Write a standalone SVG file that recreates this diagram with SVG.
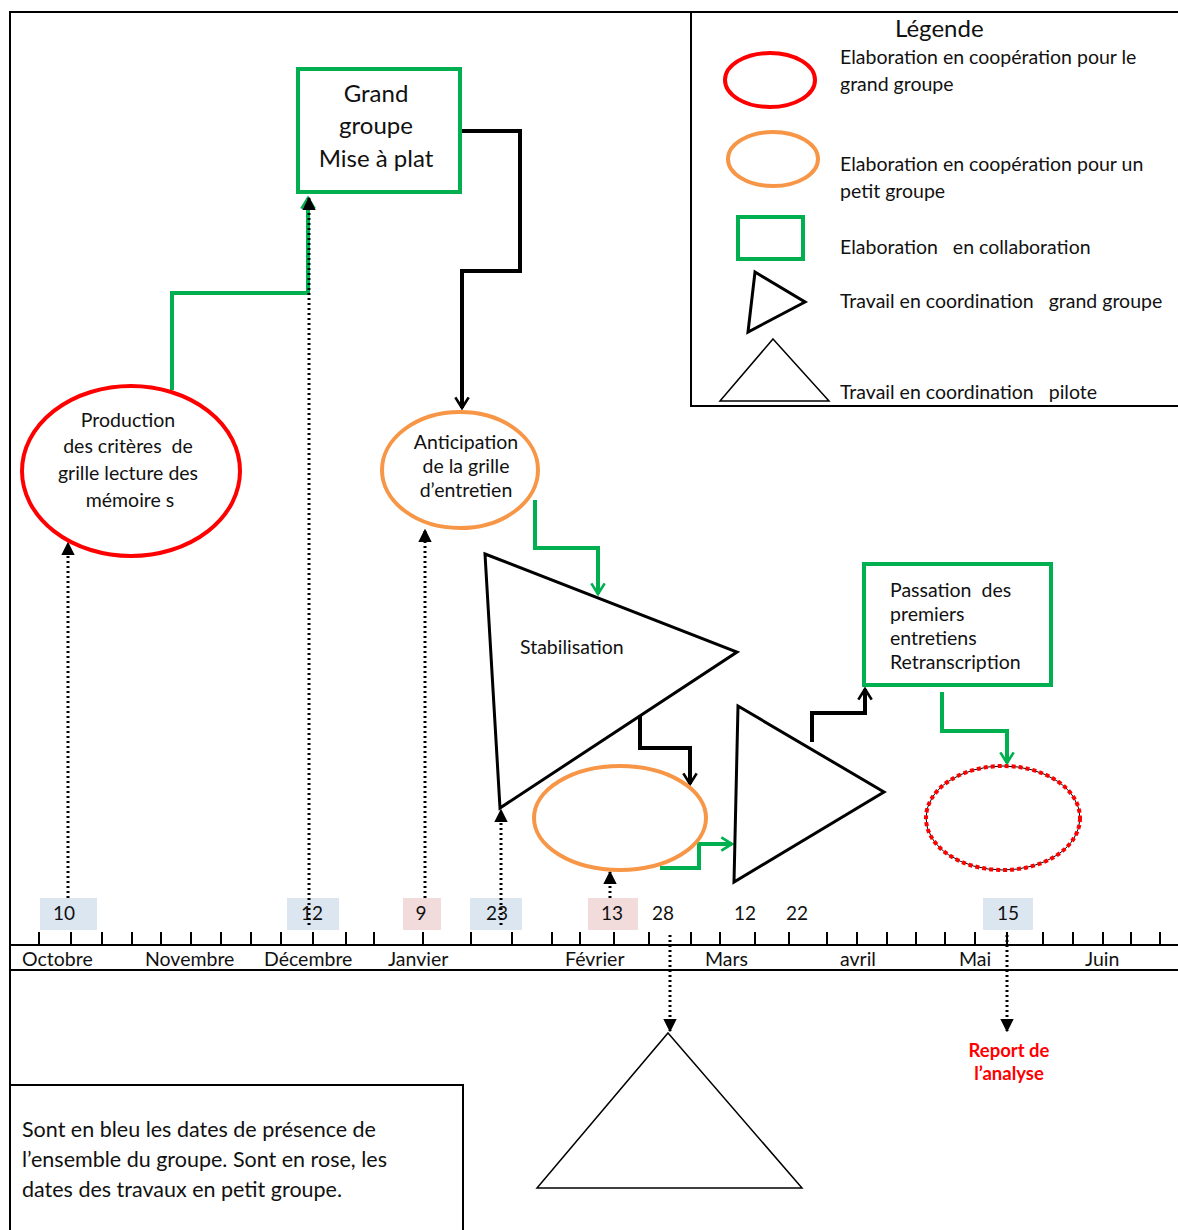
<svg xmlns="http://www.w3.org/2000/svg" width="1178" height="1230" viewBox="0 0 1178 1230">
<style>
text{font-family:Lato,"Liberation Sans",sans-serif;fill:#111;}
.t17{font-size:19.5px;}
.t19{font-size:19px;}
.t21{font-size:21.5px;}
.t22{font-size:24px;}
.mid{text-anchor:middle;}
.frame{fill:none;stroke:#000;stroke-width:2;}
.red{fill:none;stroke:#f00;stroke-width:4;}
.orange{fill:none;stroke:#f79646;stroke-width:4;}
.green{fill:none;stroke:#00b050;stroke-width:4;}
.tri{fill:none;stroke:#000;stroke-width:3;stroke-linejoin:miter;}
.thin{fill:none;stroke:#000;stroke-width:1.5;}
.gc{fill:none;stroke:#00b050;stroke-width:4;}
.bc{fill:none;stroke:#000;stroke-width:4;}
.dot{fill:none;stroke:#000;stroke-width:3;stroke-dasharray:2 3;}
.blue{fill:#dce6f1;}
.pink{fill:#f2dcdb;}
.tick{stroke:#000;stroke-width:2;}
</style>
<defs>
<marker id="chevG" viewBox="0 0 12 12" refX="10" refY="6" markerWidth="4" markerHeight="4" orient="auto" markerUnits="strokeWidth">
<path d="M2 1 L10 6 L2 11" fill="none" stroke="#00b050" stroke-width="2"/>
</marker>
<marker id="chevB" viewBox="0 0 12 12" refX="10" refY="6" markerWidth="4" markerHeight="4" orient="auto" markerUnits="strokeWidth">
<path d="M2 1 L10 6 L2 11" fill="none" stroke="#000" stroke-width="2"/>
</marker>
<marker id="fill" viewBox="0 0 10 10" refX="9" refY="5" markerWidth="4.5" markerHeight="4.5" orient="auto" markerUnits="strokeWidth">
<path d="M0 0 L10 5 L0 10 z" fill="#000"/>
</marker>
</defs>

<g id="frame">
<path class="frame" d="M10 1230 V12 H1178"/>
<path class="frame" d="M691 12 V406 H1178"/>
<path class="frame" d="M10 1085 H463 V1230"/>
<path class="frame" d="M10 945 H1178"/>
<path class="frame" d="M10 970 H1178"/>
</g>

<g id="ticks">
<path class="tick" d="M39 932V945M71 932V945M102 932V945M132 932V945M161 932V945M191 932V945M221 932V945M251 932V945M281 932V945M313 932V945M346 932V945M374 932V945M423 932V945M471 932V945M512 932V945M552 932V945M580 932V945M614 932V945M649 932V945M691 932V945M720 932V945M755 932V945M789 932V945M827 932V945M857 932V945M887 932V945M916 932V945M945 932V945M975 932V945M1007 932V945M1043 932V945M1073 932V945M1103 932V945M1131 932V945M1160 932V945"/>
</g>

<g id="dates">
<rect class="blue" x="40" y="898" width="57" height="32"/>
<rect class="blue" x="287" y="898" width="52" height="32"/>
<rect class="pink" x="403" y="898" width="38" height="32"/>
<rect class="blue" x="470" y="898" width="52" height="32"/>
<rect class="pink" x="588" y="898" width="50" height="32"/>
<rect class="blue" x="983" y="898" width="50" height="32"/>
<text class="t19 mid" x="64" y="920">10</text>
<text class="t19 mid" x="312" y="920">12</text>
<text class="t19 mid" x="421" y="920">9</text>
<text class="t19 mid" x="497" y="920">23</text>
<text class="t19 mid" x="612" y="920">13</text>
<text class="t19 mid" x="663" y="920">28</text>
<text class="t19 mid" x="745" y="920">12</text>
<text class="t19 mid" x="797" y="920">22</text>
<text class="t19 mid" x="1008" y="920">15</text>
</g>

<g id="months">
<text class="t17" x="22" y="966">Octobre</text>
<text class="t17" x="145" y="966">Novembre</text>
<text class="t17" x="264" y="966">Décembre</text>
<text class="t17" x="388" y="966">Janvier</text>
<text class="t17" x="565" y="966">Février</text>
<text class="t17" x="705" y="966">Mars</text>
<text class="t17" x="840" y="966">avril</text>
<text class="t17" x="959" y="966">Mai</text>
<text class="t17" x="1085" y="966">Juin</text>
</g>

<g id="legend">
<text class="t22" x="895" y="37">Légende</text>
<ellipse class="red" cx="770" cy="80" rx="45" ry="27"/>
<text class="t17" x="840" y="64">Elaboration en coopération pour le</text>
<text class="t17" x="840" y="91">grand groupe</text>
<ellipse class="orange" cx="773" cy="159" rx="45" ry="27"/>
<text class="t17" x="840" y="171">Elaboration en coopération pour un</text>
<text class="t17" x="840" y="198">petit groupe</text>
<rect class="green" x="738" y="217" width="65" height="42"/>
<text class="t17" x="840" y="254" xml:space="preserve">Elaboration   en collaboration</text>
<path class="tri" d="M755 272 L805 302 L748 332 Z"/>
<text class="t17" x="840" y="308" xml:space="preserve">Travail en coordination   grand groupe</text>
<path class="thin" d="M773 339 L829 401 L720 401 Z"/>
<text class="t17" x="840" y="399" xml:space="preserve">Travail en coordination   pilote</text>
</g>

<g id="connectors">
<path class="gc" d="M172 390 V293 H308 V198" marker-end="url(#chevG)"/>
<path class="bc" d="M460 131 H520 V271 H462 V408" marker-end="url(#chevB)"/>
<path class="gc" d="M535 500 V548 H598 V594" marker-end="url(#chevG)"/>
<path class="bc" d="M640 716 V748 H690 V784" marker-end="url(#chevB)"/>
<path class="gc" d="M660 868 H699 V844 H732" marker-end="url(#chevG)"/>
<path class="bc" d="M812 742 V713 H865 V689" marker-end="url(#chevB)"/>
<path class="gc" d="M942 692 V731 H1007 V763" marker-end="url(#chevG)"/>
<path class="dot" d="M68 898 V543" marker-end="url(#fill)"/>
<path class="dot" d="M309 925 V198" marker-end="url(#fill)"/>
<path class="dot" d="M425 898 V530" marker-end="url(#fill)"/>
<path class="dot" d="M501 925 V810" marker-end="url(#fill)"/>
<path class="dot" d="M610 898 V872" marker-end="url(#fill)"/>
<path class="dot" d="M670 935 V1031" marker-end="url(#fill)"/>
<path class="dot" d="M1007 935 V1031" marker-end="url(#fill)"/>
</g>

<g id="n-production">
<ellipse class="red" cx="131" cy="471" rx="109" ry="85"/>
<text class="t17 mid" x="128" y="427">Production</text>
<text class="t17 mid" x="128" y="453" xml:space="preserve">des critères  de</text>
<text class="t17 mid" x="128" y="480">grille  lecture des</text>
<text class="t17 mid" x="130" y="507">mémoire s</text>
</g>

<g id="n-grandgroupe">
<rect class="green" x="298" y="69" width="162" height="123"/>
<text class="t22 mid" x="376" y="102">Grand</text>
<text class="t22 mid" x="376" y="134">groupe</text>
<text class="t22 mid" x="376" y="167">Mise à plat</text>
</g>

<g id="n-anticipation">
<ellipse class="orange" cx="460" cy="470" rx="78" ry="58"/>
<text class="t17 mid" x="466" y="449">Anticipation</text>
<text class="t17 mid" x="466" y="473">de la grille</text>
<text class="t17 mid" x="466" y="497">d’entretien</text>
</g>

<g id="n-stabilisation">
<path class="tri" d="M485 554 L737 652 L500 808 Z"/>
<text class="t17" x="520" y="654">Stabilisation</text>
</g>

<g id="n-orange2">
<ellipse class="orange" cx="620" cy="818" rx="86" ry="52"/>
</g>

<g id="n-triangle2">
<path class="tri" d="M738 706 L884 792 L734 882 Z"/>
</g>

<g id="n-passation">
<rect class="green" x="864" y="564" width="187" height="121"/>
<text class="t17" x="890" y="597" xml:space="preserve">Passation  des</text>
<text class="t17" x="890" y="621">premiers</text>
<text class="t17" x="890" y="645">entretiens</text>
<text class="t17" x="890" y="669">Retranscription</text>
</g>

<g id="n-report-ellipse">
<ellipse cx="1003" cy="818" rx="77" ry="52" fill="none" stroke="#000" stroke-width="1"/>
<ellipse cx="1003" cy="818" rx="77" ry="52" fill="none" stroke="#f00" stroke-width="4" stroke-dasharray="4 3"/>
</g>

<g id="n-pilote">
<path class="thin" d="M668 1033 L802 1188 L537 1188 Z"/>
</g>

<g id="n-report-label">
<text class="mid" x="1009" y="1057" style="fill:#f00;font-weight:bold;font-size:18.5px">Report de</text>
<text class="mid" x="1009" y="1080" style="fill:#f00;font-weight:bold;font-size:18.5px">l’analyse</text>
</g>

<g id="n-note">
<text class="t21" x="22" y="1137">Sont en bleu les dates de présence de</text>
<text class="t21" x="22" y="1167">l’ensemble du groupe. Sont en rose, les</text>
<text class="t21" x="22" y="1197">dates des travaux en petit groupe.</text>
</g>
</svg>
